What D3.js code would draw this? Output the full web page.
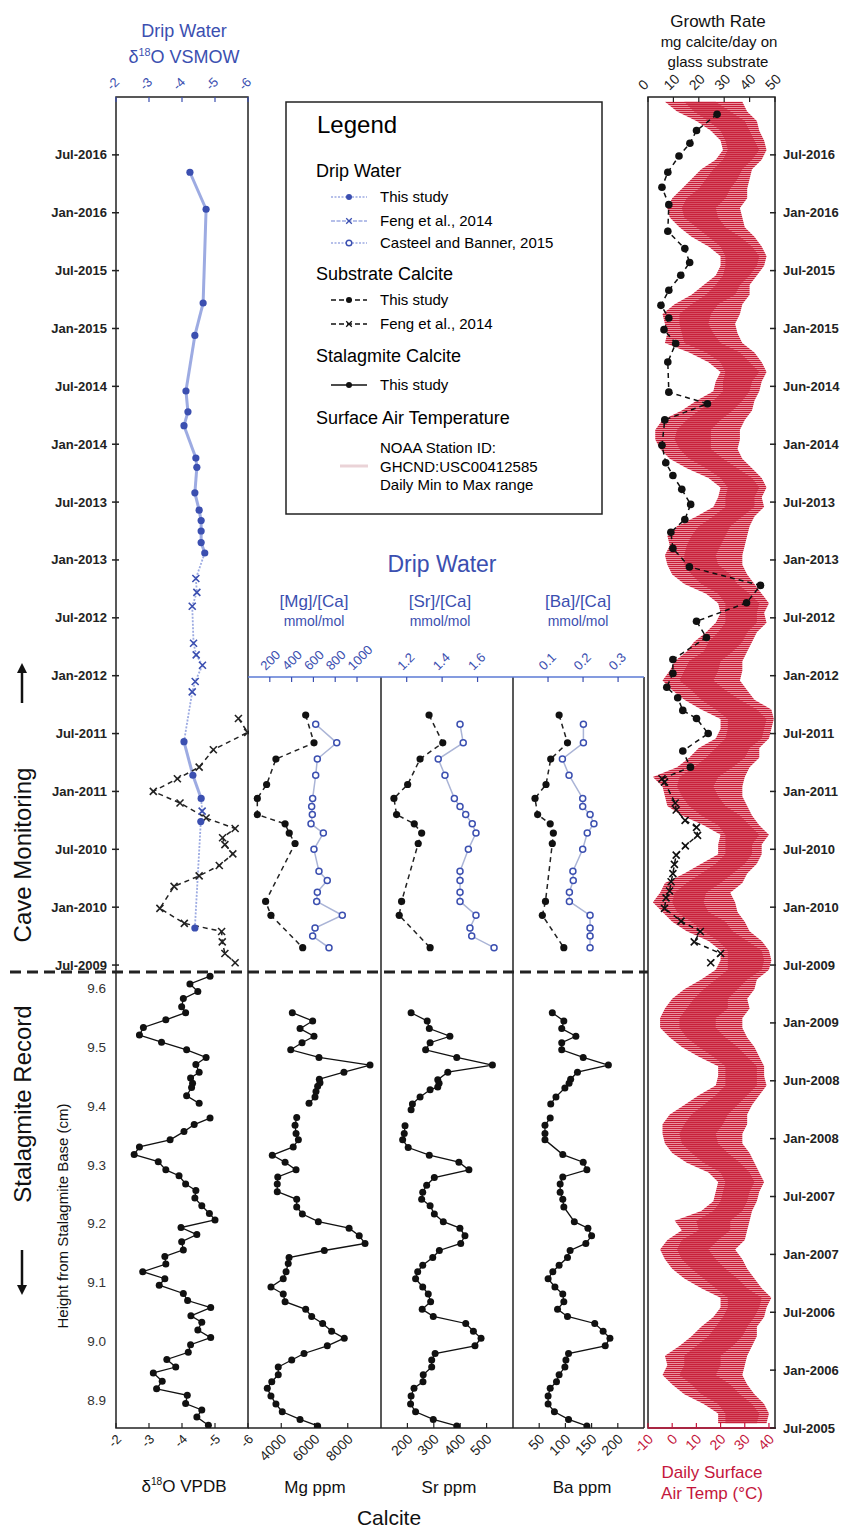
<!DOCTYPE html>
<meta charset="utf-8">
<script src="https://d3js.org/d3.v7.min.js"></script>
<style>
  body { margin: 0; background: #fff; }
  text { font-family: "Liberation Sans", Arial, sans-serif; }
</style>
<div id="chart"></div>
<script>

// ---------- data (dates as decimal years, heights in cm) ----------

// drip water d18O VSMOW, this study
const dripStudyDate = [2016.35, 2016.03, 2015.22, 2014.94, 2014.46, 2014.28, 2014.16, 2013.88, 2013.80, 2013.58,
  2013.43, 2013.34, 2013.25, 2013.15, 2013.06, 2011.43, 2011.14, 2010.94, 2010.74, 2009.82];
const dripStudyO = [-4.24, -4.73, -4.64, -4.39, -4.12, -4.18, -4.06, -4.42, -4.45, -4.39,
  -4.52, -4.58, -4.58, -4.58, -4.69, -4.06, -4.33, -4.58, -4.57, -4.39];

// drip water d18O, Feng et al. 2014
const dripFengDate = [2012.84, 2012.72, 2012.60, 2012.28, 2012.18, 2012.09, 2011.95, 2011.86, 2010.83];
const dripFengO = [-4.42, -4.45, -4.31, -4.35, -4.43, -4.62, -4.40, -4.31, -4.61];

// substrate calcite d18O VPDB, Feng et al. 2014
const subFengDate = [2011.63, 2011.51, 2011.36, 2011.21, 2011.11, 2011.00, 2010.90, 2010.77, 2010.68, 2010.60, 2010.54,
  2010.46, 2010.36, 2010.27, 2010.18, 2009.99, 2009.86, 2009.79, 2009.70, 2009.60, 2009.52];
const subFengO = [-5.71, -5.99, -4.95, -4.52, -3.86, -3.13, -3.94, -4.73, -5.61, -5.23, -5.30,
  -5.54, -5.13, -4.52, -3.76, -3.33, -4.07, -5.20, -5.22, -5.30, -5.61];

// substrate calcite trace elements, this study (ppm)
const subDate = [2011.66, 2011.42, 2011.28, 2011.06, 2010.94, 2010.80, 2010.72, 2010.64, 2010.55, 2010.05, 2009.93, 2009.65];
const subMg = [5470, 5970, 3680, 3120, 2560, 2560, 4230, 4480, 4830, 3060, 3380, 5290];
const subSr = [282, 334, 248, 201, 149, 159, 226, 254, 241, 178, 169, 286];
const subBa = [88, 104, 72, 63, 42, 47, 71, 77, 75, 62, 56, 97];

// drip water ratios, Casteel and Banner 2015 (mmol/mol)
const castDate = [2011.58, 2011.42, 2011.28, 2011.14, 2010.94, 2010.87, 2010.80, 2010.72, 2010.64, 2010.50,
  2010.31, 2010.23, 2010.13, 2010.05, 2009.93, 2009.82, 2009.75, 2009.65];
const castMg = [621, 814, 636, 621, 593, 584, 590, 578, 691, 605, 651, 727, 636, 630, 865, 615, 593, 743];
const castSr = [1.501, 1.519, 1.378, 1.416, 1.469, 1.501, 1.533, 1.570, 1.591, 1.548,
  1.501, 1.501, 1.501, 1.501, 1.591, 1.557, 1.567, 1.693];
const castBa = [0.201, 0.201, 0.141, 0.160, 0.199, 0.199, 0.220, 0.231, 0.212, 0.199,
  0.171, 0.172, 0.161, 0.161, 0.220, 0.220, 0.220, 0.220];

// growth rate on glass substrate (mg calcite/day)
const growthDate = [2016.85, 2016.71, 2016.60, 2016.49, 2016.35, 2016.22, 2016.07, 2015.84, 2015.69, 2015.57,
  2015.46, 2015.33, 2015.20, 2015.09, 2014.99, 2014.87, 2014.71, 2014.45, 2014.35, 2014.21, 2013.99, 2013.84,
  2013.73, 2013.61, 2013.48, 2013.35, 2013.24, 2013.10, 2012.94, 2012.78, 2012.63, 2012.47, 2012.33, 2012.14,
  2012.02, 2011.90, 2011.81, 2011.70, 2011.63, 2011.50, 2011.35, 2011.21];
const growthVal = [27.2, 19.1, 16.5, 12.2, 7.8, 5.5, 8.2, 7.8, 14.5, 16.4,
  12.9, 8.2, 5.1, 8.2, 6.3, 10.9, 7.8, 8.2, 23.4, 6.6, 5.5, 7.0,
  9.8, 13.3, 16.8, 14.5, 9.0, 9.8, 16.3, 44.3, 38.8, 19.1, 23.0, 9.8,
  9.8, 7.4, 11.7, 13.7, 19.1, 23.7, 13.7, 16.7];
const growthFengDate = [2011.11, 2011.08, 2010.90, 2010.84, 2010.75, 2010.69, 2010.62, 2010.53, 2010.45, 2010.37,
  2010.29, 2010.22, 2010.14, 2010.08, 2009.99, 2009.88, 2009.79, 2009.70, 2009.60, 2009.52];
const growthFengVal = [5.5, 6.5, 10.7, 11.1, 14.6, 19.1, 19.5, 14.7, 11.1, 10.4,
  9.8, 9.1, 8.5, 7.1, 6.5, 13.0, 20.6, 18.2, 28.6, 24.7];

// stalagmite record [height cm, value]; null marks the sampling gap
const stalO = [[9.620,-4.85],[9.607,-4.24],[9.594,-4.48],[9.582,-4.04],[9.568,-3.99],[9.558,-4.11],[9.546,-3.51],
  [9.533,-2.83],[9.520,-2.71],[9.508,-3.38],[9.495,-4.14],[9.482,-4.73],[9.470,-4.42],[9.457,-4.52],[9.447,-4.26],
  [9.438,-4.32],[9.431,-4.29],[9.417,-4.14],[9.404,-4.52],[9.39,null],[9.379,-4.85],[9.368,-4.37],[9.356,-4.06],
  [9.342,-3.64],[9.330,-2.71],[9.317,-2.55],[9.305,-3.28],[9.291,-3.51],[9.281,-3.91],[9.267,-4.11],[9.256,-4.42],
  [9.243,-4.39],[9.230,-4.60],[9.217,-4.83],[9.206,-5.00],[9.193,-3.97],[9.181,-4.45],[9.169,-3.99],[9.155,-4.04],
  [9.144,-3.48],[9.131,-3.51],[9.118,-2.81],[9.106,-3.48],[9.095,-3.31],[9.081,-4.04],[9.069,-4.17],[9.057,-4.87],
  [9.043,-4.27],[9.032,-4.60],[9.019,-4.48],[9.006,-4.87],[8.994,-4.26],[8.981,-4.19],[8.969,-3.54],[8.956,-3.81],
  [8.946,-3.13],[8.932,-3.40],[8.919,-3.23],[8.908,-4.16],[8.894,-4.11],[8.883,-4.60],[8.871,-4.45],[8.857,-4.80]];
const stalMg = [[9.558,4665],[9.544,5890],[9.531,5130],[9.518,5970],[9.507,5250],[9.495,4570],[9.482,6270],
  [9.469,9340],[9.457,7770],[9.445,6290],[9.439,6330],[9.433,6190],[9.424,6090],[9.415,6030],[9.404,5670],
  [9.39,null],[9.380,4930],[9.367,4830],[9.353,4890],[9.342,5030],[9.330,4720],[9.316,3460],[9.304,4230],
  [9.291,4890],[9.279,3790],[9.267,3760],[9.254,3760],[9.241,4930],[9.228,4930],[9.216,5270],[9.203,6230],
  [9.192,8080],[9.179,8690],[9.166,9040],[9.154,6590],[9.142,4470],[9.132,4420],[9.118,4290],[9.106,4120],
  [9.092,3380],[9.080,4120],[9.067,4230],[9.054,5470],[9.042,5830],[9.030,6490],[9.017,7030],[9.005,7790],
  [8.992,6770],[8.979,5370],[8.968,4630],[8.956,3820],[8.943,3820],[8.931,3430],[8.920,3160],[8.907,3380],
  [8.893,3680],[8.880,4060],[8.867,5130],[8.856,6190]];
const stalSr = [[9.558,214],[9.544,275],[9.531,283],[9.518,361],[9.507,286],[9.495,269],[9.482,387],[9.469,522],
  [9.457,353],[9.444,315],[9.438,320],[9.432,315],[9.427,286],[9.415,248],[9.403,219],[9.393,214],[9.385,null],
  [9.366,191],[9.353,188],[9.342,182],[9.329,203],[9.316,283],[9.304,395],[9.291,433],[9.278,302],[9.265,273],
  [9.253,258],[9.241,254],[9.230,286],[9.216,302],[9.203,336],[9.192,399],[9.179,418],[9.166,402],[9.154,321],
  [9.142,296],[9.129,258],[9.118,239],[9.106,231],[9.092,258],[9.080,279],[9.067,288],[9.054,256],[9.042,298],
  [9.030,421],[9.017,450],[9.005,479],[8.992,456],[8.979,305],[8.968,292],[8.956,292],[8.943,260],[8.931,259],
  [8.920,225],[8.907,214],[8.893,212],[8.880,231],[8.867,298],[8.856,387]];
const stalBa = [[9.558,75],[9.544,97],[9.531,93],[9.518,120],[9.507,93],[9.495,93],[9.482,134],[9.469,182],
  [9.457,123],[9.445,110],[9.438,107],[9.430,99],[9.415,82],[9.403,72],[9.39,null],[9.379,71],[9.367,61],[9.353,61],
  [9.342,61],[9.317,95],[9.304,134],[9.291,141],[9.279,95],[9.267,90],[9.253,90],[9.241,95],[9.228,97],[9.203,117],
  [9.192,143],[9.179,150],[9.166,139],[9.154,109],[9.142,104],[9.129,88],[9.118,76],[9.106,67],[9.092,80],[9.080,95],
  [9.067,97],[9.054,85],[9.042,104],[9.030,156],[9.017,172],[9.005,185],[8.992,176],[8.979,106],[8.968,101],
  [8.956,99],[8.943,88],[8.931,83],[8.920,71],[8.907,67],[8.893,67],[8.880,79],[8.867,106],[8.856,141]];

// daily surface air temperature, summarised by month from Jul-2005 (deg C):
// lowest daily min, mean daily min, mean daily max, highest daily max
const tLo = [19,19,13,5,0,-4,
  -2,-3,3,8,12,17,20,20,12,5,0,-3,   -5,-2,4,1,12,17,18,19,15,6,0,-3,
  -4,-4,-1,5,11,18,19,19,11,4,-1,-5,  -5,-3,0,5,12,18,20,20,15,6,0,-4,
  -8,-5,-3,5,12,19,19,20,13,4,-2,-3,  -4,-8,2,7,11,18,20,20,12,5,0,-4,
  -1,1,6,9,14,18,20,19,14,5,0,-2,     -3,-1,-2,2,10,17,19,20,15,6,-1,-5,
  -7,-7,-4,4,10,17,18,20,15,7,-3,-2,  -3,-4,1,8,13,18,20,20,15,8,3,-1,
  -2,0,4,8,12,18,21,20,16,10,2,-3];
const tMin = [22,22,19,12,8,3,
  5,5,10,15,18,21,23,23,18,13,8,4,    2,4,11,10,17,20,21,22,20,13,8,4,
  3,5,8,13,18,22,22,22,17,11,6,3,     3,6,9,13,18,23,23,23,19,13,8,2,
  0,1,6,12,18,22,22,22,19,12,7,4,     2,3,9,14,18,22,23,23,18,12,8,3,
  5,7,13,15,19,22,22,22,19,12,8,5,    5,6,8,11,17,22,22,23,20,14,7,3,
  1,2,6,11,17,21,21,22,20,14,5,4,     3,3,8,14,18,21,22,22,20,15,10,5,
  4,6,11,14,17,21,23,22,20,15,9,5];
const tMax = [35,36,33,28,24,18,
  20,20,25,29,31,34,36,37,31,27,22,18, 15,19,24,24,29,31,32,34,32,28,23,19,
  18,21,23,27,31,35,35,35,31,27,22,18, 18,23,23,27,31,37,38,37,31,25,22,15,
  13,14,20,25,30,33,33,36,32,28,22,19, 17,19,25,30,32,37,38,39,35,28,22,17,
  19,20,25,29,31,35,35,36,32,27,24,19, 18,20,22,24,29,34,34,36,33,27,21,16,
  16,16,20,25,29,32,33,36,32,28,20,17, 15,16,19,26,28,32,35,36,33,28,22,19,
  18,22,24,27,29,33,36,34,32,30,24,18];
const tHi = [39,40,38,34,31,29,
  30,31,33,35,35,38,39,41,37,34,31,29, 26,30,31,32,33,35,36,38,36,34,32,29,
  29,31,31,33,36,39,38,38,36,34,31,29, 29,32,31,34,35,40,41,40,37,32,30,27,
  26,24,29,31,35,37,37,40,36,33,31,29, 29,30,32,36,36,40,41,42,41,34,31,28,
  29,29,31,33,35,39,38,40,37,34,31,29, 29,30,31,32,34,38,37,39,37,33,29,27,
  28,28,30,33,34,36,37,39,37,34,29,27, 26,28,29,32,32,35,38,39,37,34,30,29,
  28,31,31,32,33,37,39,38,36,35,31,29];

// tick values and labels
const dateTicks = [2005.5,2006,2006.5,2007,2007.5,2008,2008.5,2009,2009.5,2010,2010.5,2011,2011.5,
  2012,2012.5,2013,2013.5,2014,2014.5,2015,2015.5,2016,2016.5];
const dateLabels = ["Jul-2005","Jan-2006","Jul-2006","Jan-2007","Jul-2007","Jan-2008","Jun-2008","Jan-2009",
  "Jul-2009","Jan-2010","Jul-2010","Jan-2011","Jul-2011","Jan-2012","Jul-2012","Jan-2013","Jul-2013",
  "Jan-2014","Jun-2014","Jan-2015","Jul-2015","Jan-2016","Jul-2016"];
const leftDateLabels = ["Jul-2009","Jan-2010","Jul-2010","Jan-2011","Jul-2011","Jan-2012","Jul-2012","Jan-2013",
  "Jul-2013","Jan-2014","Jul-2014","Jan-2015","Jul-2015","Jan-2016","Jul-2016"];
const heightTicks = [8.9, 9.0, 9.1, 9.2, 9.3, 9.4, 9.5, 9.6];

// ---------- layout ----------
const BLUE = "#3b4fb0", BLUE_LINE = "#9dabe2", RED = "#c4163c";
const yTop = 97, yBot = 1428, ySplit = 972, yTrace = 677;

const svg = d3.select("#chart").append("svg")
  .attr("width", 845).attr("height", 1529);

// scales
const yT = d3.scaleLinear().domain([2005.5, 2017]).range([yBot, yTop]);
const yH = d3.scaleLinear().domain([8.9, 9.6]).range([1400, 988]);
const xO = d3.scaleLinear().domain([-2, -6]).range([116, 248]);
const xMg = d3.scaleLinear().domain([2000, 10000]).range([248, 381]);
const xSr = d3.scaleLinear().domain([100, 600]).range([381, 513]);
const xBa = d3.scaleLinear().domain([0, 250]).range([513, 644]);
const xMgCa = d3.scaleLinear().domain([0, 1220]).range([248, 381]);
const xSrCa = d3.scaleLinear().domain([1.055, 1.80]).range([381, 513]);
const xBaCa = d3.scaleLinear().domain([0, 0.374]).range([513, 644]);
const xGr = d3.scaleLinear().domain([0, 50]).range([648, 775]);
const xT = d3.scaleLinear().domain([-10, 42.5]).range([648, 775]);

const defs = svg.append("defs");
function clip(id, x0, y0, x1, y1) {
  defs.append("clipPath").attr("id", id).append("rect")
    .attr("x", x0).attr("y", y0).attr("width", x1 - x0).attr("height", y1 - y0);
  return `url(#${id})`;
}

// striped fill that reads like many thin daily min-max strokes
const hair = defs.append("pattern").attr("id", "hair").attr("patternUnits", "userSpaceOnUse")
  .attr("width", 6).attr("height", 2);
hair.append("rect").attr("width", 6).attr("height", 2).attr("fill", "#ee9fab");
hair.append("rect").attr("width", 6).attr("height", 1.1).attr("fill", "#c81d38");

// ---------- temperature band ----------
const tIdx = d3.range(tLo.length);
const tDate = i => 2005.5 + (i + 0.5) / 12;
const gTemp = svg.append("g").attr("clip-path", clip("cTemp", 648, yTop, 775, yBot));
gTemp.append("path").datum(tIdx)
  .attr("d", d3.area().y(i => yT(tDate(i))).x0(i => xT(tLo[i])).x1(i => xT(tHi[i])))
  .attr("fill", "url(#hair)");
gTemp.append("path").datum(tIdx)
  .attr("d", d3.area().y(i => yT(tDate(i))).x0(i => xT(tMin[i])).x1(i => xT(tMax[i])))
  .attr("fill", "#c8243e").attr("opacity", 0.6);

// ---------- frames ----------
const frame = svg.append("g").attr("fill", "none").attr("stroke", "#222").attr("stroke-width", 1.5);
frame.append("rect").attr("x", 116).attr("y", yTop).attr("width", 132).attr("height", yBot - yTop);
frame.append("rect").attr("x", 648).attr("y", yTop).attr("width", 127).attr("height", yBot - yTop);
[381, 513, 644].forEach(x => frame.append("line").attr("x1", x).attr("x2", x).attr("y1", yTrace).attr("y2", yBot));
frame.append("line").attr("x1", 248).attr("x2", 644).attr("y1", yBot).attr("y2", yBot);
svg.append("line").attr("x1", 248).attr("x2", 644).attr("y1", yTrace).attr("y2", yTrace)
  .attr("stroke", "#5b7ad4").attr("stroke-width", 1.5);
svg.append("line").attr("x1", 648).attr("x2", 775).attr("y1", yBot).attr("y2", yBot)
  .attr("stroke", RED).attr("stroke-width", 1.5);

// dashed divider between monitoring and stalagmite record
svg.append("line").attr("x1", 10).attr("x2", 648).attr("y1", ySplit).attr("y2", ySplit)
  .attr("stroke", "#222").attr("stroke-width", 3).attr("stroke-dasharray", "11,6");

// ---------- axes ----------
function ticksH(scale, values, y, dir, color, labels, size) {
  const g = svg.append("g");
  values.forEach((v, i) => {
    const x = scale(v);
    g.append("line").attr("x1", x).attr("x2", x).attr("y1", y).attr("y2", y + dir * 5)
      .attr("stroke", color).attr("stroke-width", 1.2);
    const tx = dir > 0 ? x - 4 : x + 6;
    const ty = dir > 0 ? y - 6 : y + 12;
    g.append("text").attr("transform", `translate(${tx},${ty}) rotate(-45)`)
      .attr("text-anchor", dir > 0 ? "start" : "end")
      .attr("font-size", size).attr("fill", color).text(labels[i]);
  });
}
// top axes (ticks point down into the panel)
ticksH(xO, [-2, -3, -4, -5, -6], yTop, 1, BLUE, ["-2", "-3", "-4", "-5", "-6"], 13);
ticksH(xGr, [0, 10, 20, 30, 40, 50], yTop, 1, "#222", ["0", "10", "20", "30", "40", "50"], 14);
ticksH(xMgCa, [200, 400, 600, 800, 1000], yTrace, 1, BLUE, ["200", "400", "600", "800", "1000"], 13);
ticksH(xSrCa, [1.2, 1.4, 1.6], yTrace, 1, BLUE, ["1.2", "1.4", "1.6"], 13);
ticksH(xBaCa, [0.1, 0.2, 0.3], yTrace, 1, BLUE, ["0.1", "0.2", "0.3"], 13);
// bottom axes (ticks point up)
ticksH(xO, [-2, -3, -4, -5, -6], yBot, -1, "#222", ["-2", "-3", "-4", "-5", "-6"], 13);
ticksH(xMg, [4000, 6000, 8000], yBot, -1, "#222", ["4000", "6000", "8000"], 14);
ticksH(xSr, [200, 300, 400, 500], yBot, -1, "#222", ["200", "300", "400", "500"], 14);
ticksH(xBa, [50, 100, 150, 200], yBot, -1, "#222", ["50", "100", "150", "200"], 14);
ticksH(xT, [-10, 0, 10, 20, 30, 40], yBot, -1, RED, ["-10", "0", "10", "20", "30", "40"], 14);

// date axes
const dateG = svg.append("g").attr("font-size", 13).attr("font-weight", "bold").attr("fill", "#222");
dateTicks.forEach((d, i) => {
  const y = yT(d);
  dateG.append("line").attr("x1", 770).attr("x2", 776).attr("y1", y).attr("y2", y).attr("stroke", "#222").attr("stroke-width", 1.5);
  dateG.append("text").attr("x", 783).attr("y", y + 4.5).text(dateLabels[i]);
});
dateTicks.filter(d => d >= 2009.5).forEach((d, i) => {
  const y = yT(d);
  dateG.append("line").attr("x1", 112).attr("x2", 119).attr("y1", y).attr("y2", y).attr("stroke", "#222").attr("stroke-width", 1.5);
  dateG.append("text").attr("x", 107).attr("y", y + 4.5).attr("text-anchor", "end").text(leftDateLabels[i]);
});
// height axis
const hG = svg.append("g").attr("font-size", 13.5).attr("fill", "#333").attr("text-anchor", "end");
heightTicks.forEach(h => hG.append("text").attr("x", 106).attr("y", yH(h) + 5).text(h.toFixed(1)));

// ---------- marks ----------
const cross = "M-3.5,-3.5L3.5,3.5M-3.5,3.5L3.5,-3.5";
function dots(g, pts, r, fill, stroke) {
  g.selectAll(null).data(pts).enter().append("circle")
    .attr("cx", d => d[0]).attr("cy", d => d[1]).attr("r", r)
    .attr("fill", fill).attr("stroke", stroke || "none").attr("stroke-width", 1.5);
}
function crosses(g, pts, color) {
  g.selectAll(null).data(pts).enter().append("path")
    .attr("d", cross).attr("transform", d => `translate(${d[0]},${d[1]})`)
    .attr("stroke", color).attr("stroke-width", 1.6).attr("fill", "none");
}
function pathOf(g, pts, color, width, dash) {
  g.append("path").datum(pts)
    .attr("d", d3.line().defined(d => d[0] != null && d[1] != null))
    .attr("fill", "none").attr("stroke", color).attr("stroke-width", width)
    .attr("stroke-dasharray", dash || null);
}
const zip = (dates, vals, xs) => dates.map((d, i) => [xs(vals[i]), yT(d)]);

// left panel: drip water + substrate d18O
const gO = svg.append("g").attr("clip-path", clip("cO", 116, yTop, 249, ySplit));
const dripAll = dripStudyDate.map((d, i) => ({d, v: dripStudyO[i], s: 1}))
  .concat(dripFengDate.map((d, i) => ({d, v: dripFengO[i], s: 0})))
  .sort((a, b) => b.d - a.d);
for (let i = 0; i < dripAll.length - 1; i++) {
  const a = dripAll[i], b = dripAll[i + 1];
  const thick = a.s && b.s && (a.d - b.d) < 0.85;
  pathOf(gO, [[xO(a.v), yT(a.d)], [xO(b.v), yT(b.d)]], BLUE_LINE, thick ? 3 : 1.8, thick ? null : "2,1.5");
}
pathOf(gO, zip(subFengDate, subFengO, xO), "#222", 1.5, "5,4");
crosses(gO, zip(subFengDate, subFengO, xO), "#222");
dots(gO, zip(dripStudyDate, dripStudyO, xO), 3.6, BLUE);
crosses(gO, zip(dripFengDate, dripFengO, xO), BLUE);

// trace-element monitoring panels
const gM = svg.append("g").attr("clip-path", clip("cM", 248, yTrace, 644, ySplit));
[[castMg, xMgCa, subMg, xMg], [castSr, xSrCa, subSr, xSr], [castBa, xBaCa, subBa, xBa]].forEach(([cv, cs, sv, ss]) => {
  pathOf(gM, zip(castDate, cv, cs), "#aab4d6", 1.5);
  dots(gM, zip(castDate, cv, cs), 3, "#fff", BLUE);
  pathOf(gM, zip(subDate, sv, ss), "#222", 1.5, "5,4");
  dots(gM, zip(subDate, sv, ss), 3.6, "#111");
});

// growth rate panel
const gG = svg.append("g").attr("clip-path", clip("cG", 648, yTop, 775, yBot));
const grAll = zip(growthDate, growthVal, xGr).concat(zip(growthFengDate, growthFengVal, xGr));
pathOf(gG, grAll, "#111", 1.5, "5,4");
dots(gG, zip(growthDate, growthVal, xGr), 3.8, "#111");
crosses(gG, zip(growthFengDate, growthFengVal, xGr), "#111");

// stalagmite record
const gS = svg.append("g").attr("clip-path", clip("cS", 116, ySplit, 644, yBot));
[[stalO, xO], [stalMg, xMg], [stalSr, xSr], [stalBa, xBa]].forEach(([data, xs]) => {
  const pts = data.map(d => [d[1] == null ? null : xs(d[1]), yH(d[0])]);
  pathOf(gS, pts, "#111", 1.3);
  dots(gS, pts.filter(p => p[0] != null), 3.5, "#111");
});

// ---------- titles ----------
function label(x, y, txt, size, color, opts) {
  const t = svg.append("text").attr("x", x).attr("y", y).attr("font-size", size)
    .attr("fill", color || "#111").attr("text-anchor", "middle").text(txt);
  if (opts && opts.rot) t.attr("transform", `rotate(-90,${x},${y})`);
  return t;
}
function d18(x, y, suffix, size, color) {
  const t = svg.append("text").attr("x", x).attr("y", y).attr("font-size", size)
    .attr("fill", color).attr("text-anchor", "middle");
  t.append("tspan").text("δ");
  t.append("tspan").attr("dy", -7).attr("font-size", size * 0.6).text("18");
  t.append("tspan").attr("dy", 7).text("O  " + suffix);
}
label(184, 37, "Drip Water", 18, BLUE);
d18(184, 63, "VSMOW", 18, BLUE);
d18(184, 1492, "VPDB", 17, "#111");
label(718, 27, "Growth Rate", 17, "#111");
label(719, 47, "mg calcite/day on", 15, "#111");
label(718, 67, "glass substrate", 15, "#111");
label(442, 572, "Drip Water", 23, BLUE);
[["[Mg]/[Ca]", 314], ["[Sr]/[Ca]", 440], ["[Ba]/[Ca]", 578]].forEach(([t, x]) => {
  label(x, 607, t, 17, BLUE);
  label(x, 626, "mmol/mol", 14, BLUE);
});
label(315, 1493, "Mg ppm", 17, "#111");
label(449, 1493, "Sr ppm", 17, "#111");
label(582, 1493, "Ba ppm", 17, "#111");
label(389, 1525, "Calcite", 21, "#111");
label(712, 1478, "Daily Surface", 17, RED);
label(712, 1499, "Air Temp (°C)", 17, RED);
label(31, 855, "Cave Monitoring", 24, "#111", {rot: true});
label(31, 1104, "Stalagmite Record", 24, "#111", {rot: true});
label(68, 1216, "Height from Stalagmite Base (cm)", 15, "#111", {rot: true});

// arrows
defs.append("marker").attr("id", "ah").attr("viewBox", "0 0 10 10").attr("refX", 5).attr("refY", 5)
  .attr("markerWidth", 4).attr("markerHeight", 5).attr("orient", "auto-start-reverse")
  .append("path").attr("d", "M0,0L10,5L0,10Z").attr("fill", "#111");
svg.append("line").attr("x1", 22).attr("x2", 22).attr("y1", 703).attr("y2", 668)
  .attr("stroke", "#111").attr("stroke-width", 2.5).attr("marker-end", "url(#ah)");
svg.append("line").attr("x1", 22).attr("x2", 22).attr("y1", 1250).attr("y2", 1290)
  .attr("stroke", "#111").attr("stroke-width", 2.5).attr("marker-end", "url(#ah)");

// ---------- legend ----------
const lg = svg.append("g");
lg.append("rect").attr("x", 286).attr("y", 102).attr("width", 316).attr("height", 412)
  .attr("fill", "#fff").attr("stroke", "#222").attr("stroke-width", 1.5);
lg.append("text").attr("x", 317).attr("y", 133).attr("font-size", 24).text("Legend");
[["Drip Water", 177], ["Substrate Calcite", 280], ["Stalagmite Calcite", 362], ["Surface Air Temperature", 424]]
  .forEach(([t, y]) => lg.append("text").attr("x", 316).attr("y", y).attr("font-size", 18).text(t));
const items = [
  {y: 202, t: "This study", c: BLUE_LINE, dash: "2,1.5", m: "dot", mc: BLUE},
  {y: 226, t: "Feng et al., 2014", c: BLUE_LINE, dash: "4,1.5", m: "x", mc: BLUE},
  {y: 248, t: "Casteel and Banner, 2015", c: BLUE_LINE, dash: "2,1.5", m: "open", mc: BLUE},
  {y: 305, t: "This study", c: "#111", dash: "5,3", m: "dot", mc: "#111"},
  {y: 329, t: "Feng et al., 2014", c: "#111", dash: "5,3", m: "x", mc: "#111"},
  {y: 390, t: "This study", c: "#111", dash: null, m: "dot", mc: "#111"}
];
items.forEach(it => {
  const cy = it.y - 5;
  lg.append("line").attr("x1", 331).attr("x2", 367).attr("y1", cy).attr("y2", cy)
    .attr("stroke", it.c).attr("stroke-width", 1.6).attr("stroke-dasharray", it.dash);
  if (it.m === "dot") lg.append("circle").attr("cx", 349).attr("cy", cy).attr("r", 3).attr("fill", it.mc);
  if (it.m === "open") lg.append("circle").attr("cx", 349).attr("cy", cy).attr("r", 2.8).attr("fill", "#fff").attr("stroke", it.mc).attr("stroke-width", 1.4);
  if (it.m === "x") lg.append("path").attr("d", cross).attr("transform", `translate(349,${cy}) scale(0.8)`).attr("stroke", it.mc).attr("stroke-width", 1.6);
  lg.append("text").attr("x", 380).attr("y", it.y).attr("font-size", 15).text(it.t);
});
lg.append("line").attr("x1", 340).attr("x2", 368).attr("y1", 466).attr("y2", 466)
  .attr("stroke", "#ead3d7").attr("stroke-width", 3);
["NOAA Station ID:", "GHCND:USC00412585", "Daily Min to Max range"].forEach((t, i) =>
  lg.append("text").attr("x", 380).attr("y", 453 + i * 18.5).attr("font-size", 15).text(t));

</script>
